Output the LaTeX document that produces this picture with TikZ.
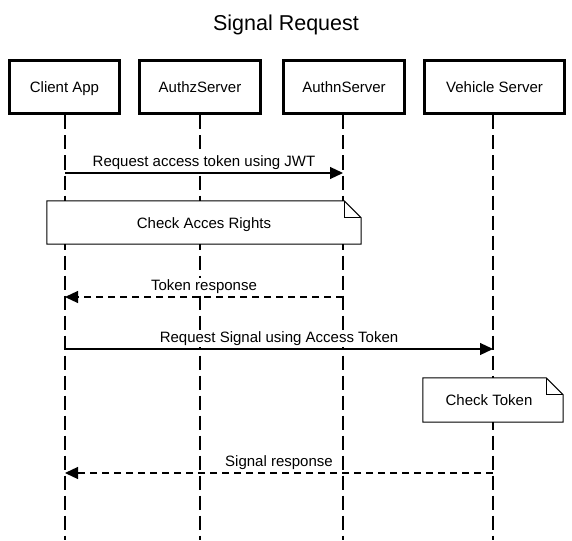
\documentclass[tikz,border=0pt]{standalone}
\usepackage{fontspec}
\setmainfont{Liberation Sans}
\usetikzlibrary{arrows.meta}
\begin{document}
\begin{tikzpicture}[x=1pt,y=1pt,
  actor/.style={draw=black,line width=3pt,fill=white,minimum height=53pt,inner sep=0pt,text height=11pt,text depth=0pt,font=\fontsize{15}{18}\selectfont},
  lifeline/.style={draw=black,line width=1.3pt,dash pattern=on 14pt off 6pt},
  msg/.style={draw=black,line width=1.2pt,-{Triangle[length=13pt,width=12pt]}},
  reply/.style={msg,dash pattern=on 7pt off 5pt},
  lbl/.style={font=\fontsize{15}{18}\selectfont,inner xsep=1pt,inner ysep=1pt,text height=11pt,text depth=3pt,fill=white},
  notebox/.style={fill=white,draw=none,inner sep=0pt,font=\fontsize{15}{18}\selectfont},
  noteline/.style={draw=black,line width=1pt,line join=miter}
]
\useasboundingbox (0,0) rectangle (572,-540);
\fill[white] (0,0) rectangle (572,-540);

% title
\node[font=\fontsize{21.5}{26}\selectfont,inner sep=0pt] (title) at (286,-24.5) {Signal Request};

% actors
\node[actor,minimum width=110pt] (ca) at (64.5,-87.5) {Client App};
\node[actor,minimum width=121pt] (az) at (200,-87.5) {AuthzServer};
\node[actor,minimum width=121pt] (an) at (344,-87.5) {AuthnServer};
\node[actor,minimum width=140pt] (vs) at (494.5,-87.5) {Vehicle Server};

% lifeline ends
\coordinate (caE) at (65,-540);
\coordinate (azE) at (200,-540);
\coordinate (anE) at (343,-540);
\coordinate (vsE) at (493,-540);
\draw[lifeline] (caE |- ca.south) -- (caE);
\draw[lifeline] (azE |- az.south) -- (azE);
\draw[lifeline] (anE |- an.south) -- (anE);
\draw[lifeline] (vsE |- vs.south) -- (vsE);

% message 1
\coordinate (m1a) at (65,-173);
\coordinate (m1b) at (343,-173);
\draw[msg] (m1a) -- (m1b) node[lbl,midway,yshift=11pt] (l1) {Request access token using JWT};

% note 1
\node[notebox,minimum width=314pt,minimum height=43pt] (n1) at (204,-222.5) {};
\node[lbl,fill=none] (n1t) at (204,-224) {Check Acces Rights};
\draw[noteline] (n1.north west) -- ([xshift=-17pt]n1.north east) -- ([yshift=-17pt]n1.north east) -- (n1.south east) -- (n1.south west) -- cycle;
\draw[noteline] ([xshift=-17pt]n1.north east) -- ([xshift=-17pt,yshift=-17pt]n1.north east) -- ([yshift=-17pt]n1.north east);

% message 2
\coordinate (m2a) at (343,-297);
\coordinate (m2b) at (65,-297);
\draw[reply] (m2a) -- (m2b) node[lbl,midway,yshift=11pt] (l2) {Token response};

% message 3
\coordinate (m3a) at (65,-349);
\coordinate (m3b) at (493,-349);
\draw[msg] (m3a) -- (m3b) node[lbl,midway,yshift=10.5pt] (l3) {Request Signal using Access Token};

% note 2
\node[notebox,minimum width=140pt,minimum height=44pt] (n2) at (493,-400) {};
\node[lbl,fill=none] (n2t) at (489,-401.5) {Check Token};
\draw[noteline] (n2.north west) -- ([xshift=-17pt]n2.north east) -- ([yshift=-17pt]n2.north east) -- (n2.south east) -- (n2.south west) -- cycle;
\draw[noteline] ([xshift=-17pt]n2.north east) -- ([xshift=-17pt,yshift=-17pt]n2.north east) -- ([yshift=-17pt]n2.north east);

% message 4
\coordinate (m4a) at (493,-473);
\coordinate (m4b) at (65,-473);
\draw[reply] (m4a) -- (m4b) node[lbl,midway,yshift=10.5pt] (l4) {Signal response};
\end{tikzpicture}
\end{document}
